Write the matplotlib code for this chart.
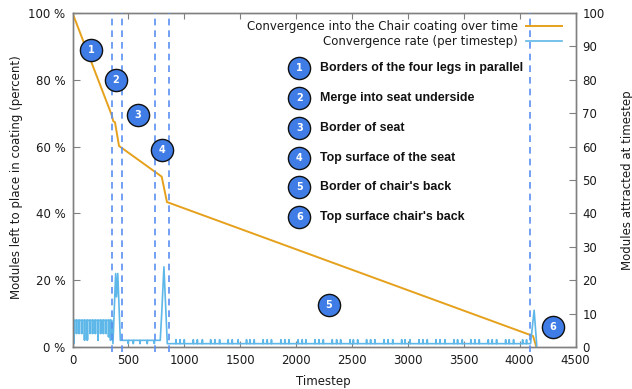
import matplotlib
matplotlib.use('Agg')
import matplotlib.pyplot as plt

# convergence curve (percent left)
conv_t = [0, 350, 365, 380, 416, 765, 798, 845, 4120, 4150]
conv_v = [100, 69.5, 67.6, 67.3, 60.2, 51.8, 51, 43.4, 3.3, 0]

# rate, first part: stripes from 8 down to the low value of each tooth
comb_t = [12, 36, 60, 84, 108, 132, 156, 180, 204, 228, 252, 276, 300, 324, 340]
comb_low = [1, 4, 4, 4, 2, 2, 4, 4, 4, 2, 4, 4, 4, 3, 2]

# rate, peaks
peak1_t = [352, 362, 386, 394, 405, 428]
peak1_v = [8, 1, 22, 15, 22, 2]
mid_dips = [499, 544, 604, 669, 732]
peak2_t = [785, 798, 818, 848]
peak2_v = [2, 10, 24, 1]
small_spikes = [926, 962, 1000, 1081, 1117, 1162, 1236, 1274, 1316, 1393, 1429, 1482,
                1557, 1587, 1626, 1706, 1742, 1780, 1864, 1900, 1936, 2019, 2055, 2088,
                2169, 2205, 2244, 2324, 2363, 2399, 2483, 2513, 2551, 2631, 2667, 2706,
                2787, 2823, 2865, 2945, 2975, 3020, 3100, 3135, 3174, 3252, 3288, 3332,
                3412, 3445, 3487, 3564, 3600, 3639, 3720, 3755, 3794, 3875, 3907, 3946,
                4027, 4062]
end_t = [4098, 4130, 4152, 4153]
end_v = [1, 11, 1, 0]

phase_lines = [350, 443, 735, 866, 4095]

bubble_x = [165, 389, 586, 800, 2294, 4298]
bubble_y = [89, 80, 69.5, 59, 12.6, 6]
key_y = [83.5, 74.6, 65.6, 56.6, 47.9, 38.9]
key_names = ['Borders of the four legs in parallel', 'Merge into seat underside', 'Border of seat',
             'Top surface of the seat', "Border of chair's back", "Top surface chair's back"]

# put the rate line together
rate_t = [0, 0]
rate_v = [0, 8]
for t, low in zip(comb_t, comb_low):
    rate_t += [t - 1, t, t + 1]
    rate_v += [8, low, 8]
rate_t += peak1_t
rate_v += peak1_v
for t in mid_dips:
    rate_t += [t - 3, t, t + 3]
    rate_v += [2, 1, 2]
rate_t += peak2_t
rate_v += peak2_v
for t in small_spikes:
    rate_t += [t - 2, t, t + 2]
    rate_v += [1, 2.2, 1]
rate_t += end_t
rate_v += end_v

gray = '#808080'
text_col = '#1a1a1a'
orange = '#E6A11C'
blue = '#5DB7E8'
dash_col = '#5A90F0'

fig = plt.figure(figsize=(6.32, 3.89), dpi=100)
ax = fig.add_axes([72.5/632, 1 - 347/389, 503/632, 334/389])
ax2 = ax.twinx()

line1, = ax.plot(conv_t, conv_v, color=orange, lw=1.4, zorder=3)
line2, = ax2.plot(rate_t, rate_v, color=blue, lw=1.2, zorder=2)
ax2.fill_between(comb_t, comb_low, 8, step='mid', color=blue, alpha=0.55, lw=0, zorder=1)

for x in phase_lines:
    ax2.plot([x, x], [-1.5, 100], color=dash_col, lw=1.2, ls=(0, (4, 3)), clip_on=False, zorder=4)

ax.set_xlim(0, 4500)
ax.set_ylim(0, 100)
ax2.set_ylim(0, 100)
ax.set_xticks(range(0, 4501, 500))
ax.set_yticks(range(0, 101, 20))
ax.set_yticklabels(['%d %%' % v for v in range(0, 101, 20)])
ax2.set_yticks(range(0, 101, 10))

ax.tick_params(axis='x', direction='in', top=True, length=4, color=gray, labelsize=8.5,
               labelcolor=text_col, pad=5)
ax.tick_params(axis='y', direction='in', length=5, color=gray, labelsize=8.5,
               labelcolor=text_col, pad=5)
ax2.tick_params(axis='y', direction='in', length=5, color=gray, labelsize=8.5,
                labelcolor=text_col, pad=5)
for a in (ax, ax2):
    for s in a.spines.values():
        s.set_color(gray)
        s.set_linewidth(1.0)

fig.text(323/632, 1 - 381/389, 'Timestep', ha='center', va='center', fontsize=8.5, color=text_col)
fig.text(17/632, 1 - 177/389, 'Modules left to place in coating (percent)', rotation=90,
         ha='center', va='center', fontsize=8.5, color=text_col)
fig.text(627/632, 1 - 180/389, 'Modules attracted at timestep', rotation=90,
         ha='center', va='center', fontsize=8.5, color=text_col)

ax2.legend([line1, line2], ['Convergence into the Chair coating over time', 'Convergence rate (per timestep)'],
           loc='upper right', bbox_to_anchor=(0.99, 1.003), frameon=False, markerfirst=False,
           alignment='right', fontsize=8.5, labelcolor=text_col, handlelength=3.05,
           labelspacing=0.12, borderpad=0.2, handletextpad=0.68)

# numbered bubbles on the plot and in the key
ax2.scatter(bubble_x, bubble_y, s=255, color='#3F7CE6', edgecolor='#111111', lw=1.0, zorder=6, clip_on=False)
ax2.scatter([2030] * 6, key_y, s=255, color='#3F7CE6', edgecolor='#111111', lw=1.0, zorder=6)
for i in range(6):
    ax2.text(bubble_x[i], bubble_y[i], str(i + 1), color='white', fontsize=7, fontweight='bold',
             ha='center', va='center', zorder=7)
    ax2.text(2030, key_y[i], str(i + 1), color='white', fontsize=7, fontweight='bold',
             ha='center', va='center', zorder=7)
    ax2.text(2214, key_y[i], key_names[i], color='#111111', fontsize=8.9, fontweight='bold',
             family='Liberation Sans', ha='left', va='center', zorder=7)

fig.savefig('out.png', dpi=100)
